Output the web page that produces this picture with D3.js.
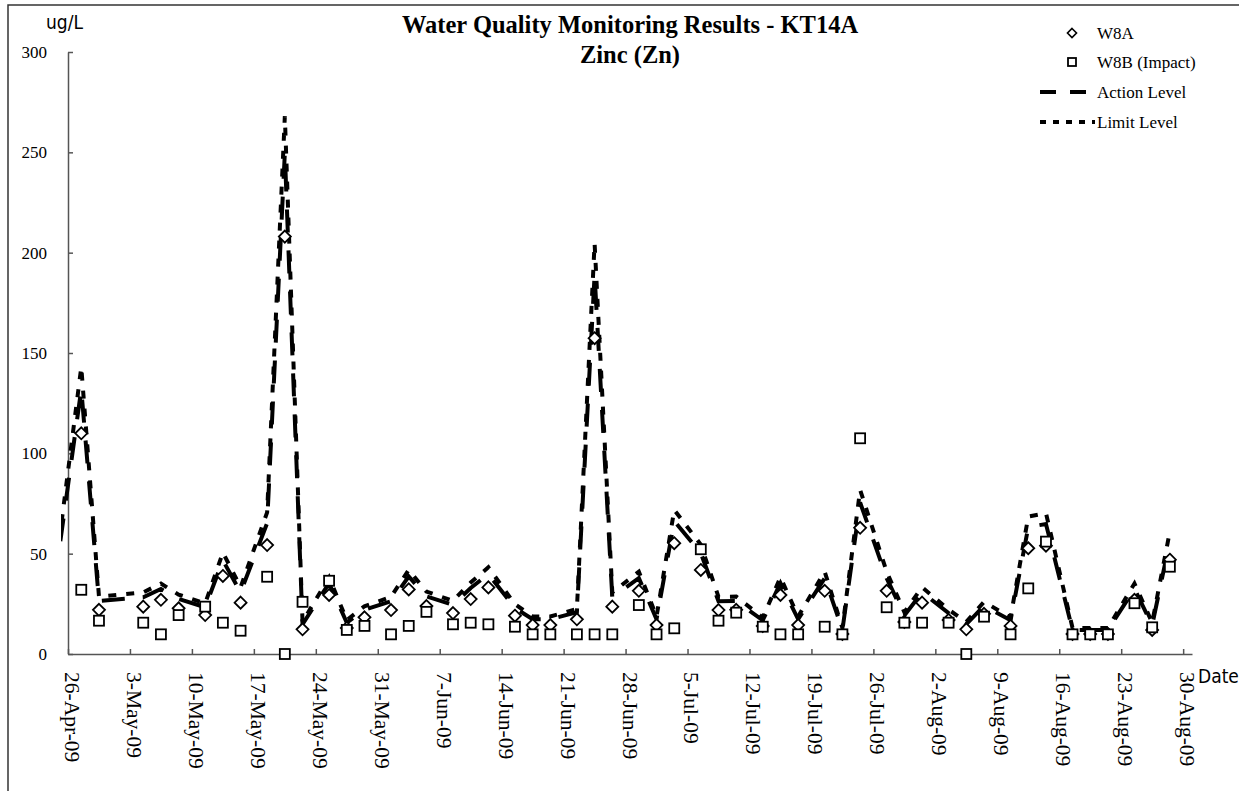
<!DOCTYPE html>
<html>
<head>
<meta charset="utf-8">
<script src="https://cdn.jsdelivr.net/npm/d3@7"></script>
<style>
  body { margin: 0; background: #fff; }
  svg { display: block; }
</style>
</head>
<body>
<div id="chart"></div>
<script>
// sampling dates (Mon / Wed / Fri)
var sampleDates = ["24-Apr-09","27-Apr-09","29-Apr-09","4-May-09","6-May-09","8-May-09","11-May-09","13-May-09","15-May-09",
  "18-May-09","20-May-09","22-May-09","25-May-09","27-May-09","29-May-09","1-Jun-09","3-Jun-09","5-Jun-09",
  "8-Jun-09","10-Jun-09","12-Jun-09","15-Jun-09","17-Jun-09","19-Jun-09","22-Jun-09","24-Jun-09","26-Jun-09",
  "29-Jun-09","1-Jul-09","3-Jul-09","6-Jul-09","8-Jul-09","10-Jul-09","13-Jul-09","15-Jul-09","17-Jul-09",
  "20-Jul-09","22-Jul-09","24-Jul-09","27-Jul-09","29-Jul-09","31-Jul-09","3-Aug-09","5-Aug-09","7-Aug-09",
  "10-Aug-09","12-Aug-09","14-Aug-09","17-Aug-09","19-Aug-09","21-Aug-09","24-Aug-09","26-Aug-09","28-Aug-09"];

// W8A (control)
var w8a = [30,110,22,23.6,27,22.8,19.4,38.9,25.6,
  54.3,208,12.3,29.4,13,18.3,21.9,32.2,23.9,
  20.4,27.4,33.2,19.1,14.4,14.4,17.3,157.4,23.6,
  31.5,14.4,55.2,41.9,21.9,22,14,29.4,14.4,
  31.5,10,62.9,31.5,16,25.6,17,12.3,20,
  14,52.7,54,10,10,10,27,12,47];

// W8B (impact)
var w8b = [20,32,16.6,15.6,9.8,19.4,23.6,15.6,11.6,
  38.5,0,26,36.5,12,14,9.8,14,21,
  14.8,15.6,14.8,13.6,9.8,9.8,9.8,9.8,9.8,
  24.4,9.8,12.8,52.2,16.6,20.6,13.6,9.8,9.8,
  13.6,9.8,107.5,23.3,15.6,15.6,15.6,0,18.6,
  9.8,32.7,56,9.8,9.8,9.8,25.3,13.3,43.5];

// action level
var actionLevel = [36,132,26.4,28.3,32.4,27.4,23.3,46.7,30.7,
  65.2,249.6,14.8,35.3,15.6,22,26.3,38.6,28.7,
  24.5,32.9,39.8,22.9,17.3,17.3,20.8,188.9,28.3,
  37.8,17.3,66.2,50.3,26.3,26.4,16.8,35.3,17.3,
  37.8,12,75.5,37.8,19.2,30.7,20.4,14.8,24,
  16.8,63.2,64.8,12,12,12,32.4,14.4,56.4];

// limit level
var limitLevel = [39,143,28.6,30.7,35.1,29.6,25.2,50.6,33.3,
  70.6,268,16,38.2,16.9,23.8,28.5,41.9,31.1,
  26.5,35.6,43.2,24.8,18.7,18.7,22.5,204.6,30.7,
  41,18.7,71.8,54.5,28.5,28.6,18.2,38.2,18.7,
  41,13,81.8,41,20.8,33.3,22.1,16,26,
  18.2,68.5,70.2,13,13,13,35.1,15.6,61.1];

var yTicks = [0,50,100,150,200,250,300];

var W = 1239, H = 791;
var serif = "'Liberation Serif','Times New Roman',serif";
var narrow = "'Liberation Sans Narrow','DejaVu Sans Condensed',sans-serif";

var parseDate = d3.timeParse("%d-%b-%y");
var fmt = d3.timeFormat("%-d-%b-%y");

var rows = sampleDates.map(function(s, i) {
  var d = parseDate(s);
  return { date: d, mid: d3.timeHour.offset(d, 12), a: w8a[i], b: w8b[i], act: actionLevel[i], lim: limitLevel[i] };
});

var startDate = new Date(2009, 3, 26), endDate = new Date(2009, 7, 31);

var x = d3.scaleTime().domain([startDate, endDate]).range([68, 1192]);
var y = d3.scaleLinear().domain([0, 300]).range([654, 52]);

var svg = d3.select("#chart").append("svg")
  .attr("width", W).attr("height", H);

// outer frame
svg.append("rect")
  .attr("x", 8).attr("y", 5).attr("width", W).attr("height", H)
  .attr("fill", "none").attr("stroke", "#333").attr("stroke-width", 1.5);

svg.append("clipPath").attr("id", "plotclip")
  .append("rect").attr("x", 61).attr("y", 0).attr("width", 1192 - 61).attr("height", 660);

// axes
var yAxis = d3.axisLeft(y).tickValues(yTicks).tickSizeInner(-5).tickSizeOuter(0).tickPadding(21);
var gy = svg.append("g").attr("transform", "translate(68,0)").call(yAxis);
gy.selectAll("text").attr("font-family", serif).attr("font-size", 17).attr("fill", "#000");

var xAxis = d3.axisBottom(x).ticks(d3.timeSunday).tickFormat(fmt).tickSizeInner(-5).tickSizeOuter(0);
var gx = svg.append("g").attr("transform", "translate(0,654)").call(xAxis);
gx.selectAll("text")
  .attr("font-family", serif).attr("font-size", 21.5).attr("fill", "#000")
  .attr("text-anchor", "start")
  .attr("transform", "rotate(90)")
  .attr("x", 18).attr("y", -4).attr("dy", "0.35em");

[gx, gy].forEach(function(g) {
  g.selectAll("path, line").attr("stroke", "#555").attr("stroke-width", 1.5);
});

// level lines
var plot = svg.append("g").attr("clip-path", "url(#plotclip)");

var actLine = d3.line().x(function(d) { return x(d.mid); }).y(function(d) { return y(d.act); });
var limLine = d3.line().x(function(d) { return x(d.mid); }).y(function(d) { return y(d.lim); });

plot.append("path").datum(rows).attr("d", actLine)
  .attr("fill", "none").attr("stroke", "#000").attr("stroke-width", 4)
  .attr("stroke-dasharray", "23,18");
plot.append("path").datum(rows).attr("d", limLine)
  .attr("fill", "none").attr("stroke", "#000").attr("stroke-width", 4)
  .attr("stroke-dasharray", "8,10");

// markers
var shown = rows.filter(function(d) { return d.date >= startDate; });
var diamond = "M0,-6L6,0L0,6L-6,0Z";

svg.append("g").selectAll("path").data(shown).enter().append("path")
  .attr("d", diamond)
  .attr("transform", function(d) { return "translate(" + x(d.mid) + "," + y(d.a) + ")"; })
  .attr("fill", "#fff").attr("stroke", "#000").attr("stroke-width", 1.8);

svg.append("g").selectAll("rect").data(shown).enter().append("rect")
  .attr("x", function(d) { return x(d.mid) - 5; })
  .attr("y", function(d) { return y(d.b) - 5; })
  .attr("width", 10).attr("height", 10)
  .attr("fill", "#fff").attr("stroke", "#000").attr("stroke-width", 1.8);

// titles
svg.append("text").attr("x", 630).attr("y", 33).attr("text-anchor", "middle")
  .attr("font-family", serif).attr("font-weight", "bold").attr("font-size", 24.5)
  .text("Water Quality Monitoring Results - KT14A");
svg.append("text").attr("x", 630).attr("y", 63).attr("text-anchor", "middle")
  .attr("font-family", serif).attr("font-weight", "bold").attr("font-size", 24.5)
  .text("Zinc (Zn)");

svg.append("text").attr("x", 46).attr("y", 29)
  .attr("font-family", narrow).attr("font-size", 19).text("ug/L");
svg.append("text").attr("x", 1198).attr("y", 683)
  .attr("font-family", narrow).attr("font-size", 19).text("Date");

// legend
var legend = svg.append("g").attr("font-family", serif).attr("font-size", 17);
var lx = 1040, lx2 = 1095, tx = 1097, mx = 1072;

legend.append("path").attr("d", diamond)
  .attr("transform", "translate(" + mx + ",33) scale(0.75)")
  .attr("fill", "#fff").attr("stroke", "#000").attr("stroke-width", 2.2);
legend.append("text").attr("x", tx).attr("y", 33).attr("dy", "0.35em").text("W8A");

legend.append("rect").attr("x", mx - 4).attr("y", 58).attr("width", 8).attr("height", 8)
  .attr("fill", "#fff").attr("stroke", "#000").attr("stroke-width", 1.8);
legend.append("text").attr("x", tx).attr("y", 62).attr("dy", "0.35em").text("W8B (Impact)");

legend.append("line").attr("x1", lx).attr("x2", lx2).attr("y1", 92).attr("y2", 92)
  .attr("stroke", "#000").attr("stroke-width", 4).attr("stroke-dasharray", "16,14");
legend.append("text").attr("x", tx).attr("y", 92).attr("dy", "0.35em").text("Action Level");

legend.append("line").attr("x1", lx).attr("x2", lx2).attr("y1", 122).attr("y2", 122)
  .attr("stroke", "#000").attr("stroke-width", 4).attr("stroke-dasharray", "6,7");
legend.append("text").attr("x", tx).attr("y", 122).attr("dy", "0.35em").text("Limit Level");
</script>
</body>
</html>
